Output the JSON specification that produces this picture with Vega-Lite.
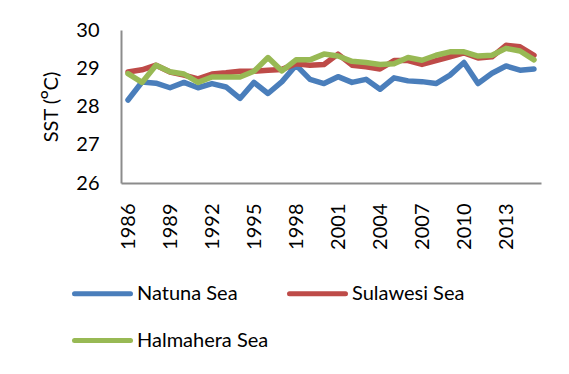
{
  "$schema": "https://vega.github.io/schema/vega-lite/v6.json",
  "autosize": {"type": "none"},
  "width": 420,
  "height": 153,
  "padding": {"left": 121, "top": 30, "right": 28, "bottom": 191},
  "background": "white",
  "config": {
    "view": {"stroke": null},
    "font": "Lato",
    "axis": {"labelFont": "Lato", "titleFont": "Lato", "labelColor": "#000000", "titleColor": "#000000", "grid": false, "ticks": false, "domainColor": "#8c8c8c", "domainWidth": 2},
    "legend": {"labelFont": "Lato", "labelColor": "#000000"}
  },
  "data": {"values": [
    {"year": 1986, "sea": "Natuna Sea", "sst": 28.17},
    {"year": 1987, "sea": "Natuna Sea", "sst": 28.64},
    {"year": 1988, "sea": "Natuna Sea", "sst": 28.61},
    {"year": 1989, "sea": "Natuna Sea", "sst": 28.49},
    {"year": 1990, "sea": "Natuna Sea", "sst": 28.63},
    {"year": 1991, "sea": "Natuna Sea", "sst": 28.49},
    {"year": 1992, "sea": "Natuna Sea", "sst": 28.6},
    {"year": 1993, "sea": "Natuna Sea", "sst": 28.51},
    {"year": 1994, "sea": "Natuna Sea", "sst": 28.21},
    {"year": 1995, "sea": "Natuna Sea", "sst": 28.63},
    {"year": 1996, "sea": "Natuna Sea", "sst": 28.34},
    {"year": 1997, "sea": "Natuna Sea", "sst": 28.65},
    {"year": 1998, "sea": "Natuna Sea", "sst": 29.08},
    {"year": 1999, "sea": "Natuna Sea", "sst": 28.71},
    {"year": 2000, "sea": "Natuna Sea", "sst": 28.6},
    {"year": 2001, "sea": "Natuna Sea", "sst": 28.78},
    {"year": 2002, "sea": "Natuna Sea", "sst": 28.63},
    {"year": 2003, "sea": "Natuna Sea", "sst": 28.71},
    {"year": 2004, "sea": "Natuna Sea", "sst": 28.45},
    {"year": 2005, "sea": "Natuna Sea", "sst": 28.75},
    {"year": 2006, "sea": "Natuna Sea", "sst": 28.67},
    {"year": 2007, "sea": "Natuna Sea", "sst": 28.65},
    {"year": 2008, "sea": "Natuna Sea", "sst": 28.6},
    {"year": 2009, "sea": "Natuna Sea", "sst": 28.82},
    {"year": 2010, "sea": "Natuna Sea", "sst": 29.15},
    {"year": 2011, "sea": "Natuna Sea", "sst": 28.6},
    {"year": 2012, "sea": "Natuna Sea", "sst": 28.87},
    {"year": 2013, "sea": "Natuna Sea", "sst": 29.06},
    {"year": 2014, "sea": "Natuna Sea", "sst": 28.95},
    {"year": 2015, "sea": "Natuna Sea", "sst": 28.98},
    {"year": 1986, "sea": "Sulawesi Sea", "sst": 28.9},
    {"year": 1987, "sea": "Sulawesi Sea", "sst": 28.96},
    {"year": 1988, "sea": "Sulawesi Sea", "sst": 29.08},
    {"year": 1989, "sea": "Sulawesi Sea", "sst": 28.9},
    {"year": 1990, "sea": "Sulawesi Sea", "sst": 28.82},
    {"year": 1991, "sea": "Sulawesi Sea", "sst": 28.72},
    {"year": 1992, "sea": "Sulawesi Sea", "sst": 28.85},
    {"year": 1993, "sea": "Sulawesi Sea", "sst": 28.88},
    {"year": 1994, "sea": "Sulawesi Sea", "sst": 28.92},
    {"year": 1995, "sea": "Sulawesi Sea", "sst": 28.92},
    {"year": 1996, "sea": "Sulawesi Sea", "sst": 28.95},
    {"year": 1997, "sea": "Sulawesi Sea", "sst": 28.97},
    {"year": 1998, "sea": "Sulawesi Sea", "sst": 29.12},
    {"year": 1999, "sea": "Sulawesi Sea", "sst": 29.08},
    {"year": 2000, "sea": "Sulawesi Sea", "sst": 29.1},
    {"year": 2001, "sea": "Sulawesi Sea", "sst": 29.37},
    {"year": 2002, "sea": "Sulawesi Sea", "sst": 29.08},
    {"year": 2003, "sea": "Sulawesi Sea", "sst": 29.04},
    {"year": 2004, "sea": "Sulawesi Sea", "sst": 28.98},
    {"year": 2005, "sea": "Sulawesi Sea", "sst": 29.2},
    {"year": 2006, "sea": "Sulawesi Sea", "sst": 29.2},
    {"year": 2007, "sea": "Sulawesi Sea", "sst": 29.1},
    {"year": 2008, "sea": "Sulawesi Sea", "sst": 29.2},
    {"year": 2009, "sea": "Sulawesi Sea", "sst": 29.3},
    {"year": 2010, "sea": "Sulawesi Sea", "sst": 29.4},
    {"year": 2011, "sea": "Sulawesi Sea", "sst": 29.27},
    {"year": 2012, "sea": "Sulawesi Sea", "sst": 29.3},
    {"year": 2013, "sea": "Sulawesi Sea", "sst": 29.6},
    {"year": 2014, "sea": "Sulawesi Sea", "sst": 29.56},
    {"year": 2015, "sea": "Sulawesi Sea", "sst": 29.34},
    {"year": 1986, "sea": "Halmahera Sea", "sst": 28.86},
    {"year": 1987, "sea": "Halmahera Sea", "sst": 28.63},
    {"year": 1988, "sea": "Halmahera Sea", "sst": 29.08},
    {"year": 1989, "sea": "Halmahera Sea", "sst": 28.91},
    {"year": 1990, "sea": "Halmahera Sea", "sst": 28.85},
    {"year": 1991, "sea": "Halmahera Sea", "sst": 28.63},
    {"year": 1992, "sea": "Halmahera Sea", "sst": 28.77},
    {"year": 1993, "sea": "Halmahera Sea", "sst": 28.77},
    {"year": 1994, "sea": "Halmahera Sea", "sst": 28.77},
    {"year": 1995, "sea": "Halmahera Sea", "sst": 28.92},
    {"year": 1996, "sea": "Halmahera Sea", "sst": 29.28},
    {"year": 1997, "sea": "Halmahera Sea", "sst": 28.93},
    {"year": 1998, "sea": "Halmahera Sea", "sst": 29.22},
    {"year": 1999, "sea": "Halmahera Sea", "sst": 29.22},
    {"year": 2000, "sea": "Halmahera Sea", "sst": 29.37},
    {"year": 2001, "sea": "Halmahera Sea", "sst": 29.32},
    {"year": 2002, "sea": "Halmahera Sea", "sst": 29.18},
    {"year": 2003, "sea": "Halmahera Sea", "sst": 29.15},
    {"year": 2004, "sea": "Halmahera Sea", "sst": 29.1},
    {"year": 2005, "sea": "Halmahera Sea", "sst": 29.12},
    {"year": 2006, "sea": "Halmahera Sea", "sst": 29.28},
    {"year": 2007, "sea": "Halmahera Sea", "sst": 29.21},
    {"year": 2008, "sea": "Halmahera Sea", "sst": 29.34},
    {"year": 2009, "sea": "Halmahera Sea", "sst": 29.43},
    {"year": 2010, "sea": "Halmahera Sea", "sst": 29.43},
    {"year": 2011, "sea": "Halmahera Sea", "sst": 29.32},
    {"year": 2012, "sea": "Halmahera Sea", "sst": 29.34},
    {"year": 2013, "sea": "Halmahera Sea", "sst": 29.52},
    {"year": 2014, "sea": "Halmahera Sea", "sst": 29.45},
    {"year": 2015, "sea": "Halmahera Sea", "sst": 29.22}
  ]},
  "mark": {"type": "line", "strokeWidth": 5.5, "strokeCap": "round", "strokeJoin": "round"},
  "encoding": {
    "x": {
      "field": "year", "type": "ordinal",
      "scale": {"type": "point", "padding": 0.5},
      "axis": {"title": null, "values": [1986, 1989, 1992, 1995, 1998, 2001, 2004, 2007, 2010, 2013], "labelAngle": 270, "labelFontSize": 20, "labelPadding": 20}
    },
    "y": {
      "field": "sst", "type": "quantitative",
      "scale": {"domain": [26, 30], "zero": false, "nice": false},
      "axis": {"title": "SST (ᴼC)", "values": [26, 27, 28, 29, 30], "labelFontSize": 20, "labelPadding": 22, "titleFontSize": 20, "titleFontWeight": "normal", "titlePadding": 14}
    },
    "color": {
      "field": "sea", "type": "nominal",
      "sort": ["Natuna Sea", "Sulawesi Sea", "Halmahera Sea"],
      "scale": {"domain": ["Natuna Sea", "Sulawesi Sea", "Halmahera Sea"], "range": ["#4a7ebb", "#be4b48", "#98b954"]},
      "legend": {
        "title": null, "orient": "none", "legendX": -49, "legendY": 233,
        "direction": "horizontal", "columns": 2,
        "symbolType": "stroke", "symbolSize": 3136, "symbolStrokeWidth": 5,
        "labelFontSize": 20, "labelOffset": 4, "columnPadding": 10, "rowPadding": 6,
        "encode": {"symbols": {"update": {"strokeCap": {"value": "round"}}}}
      }
    },
    "order": {"field": "sea"}
  }
}
